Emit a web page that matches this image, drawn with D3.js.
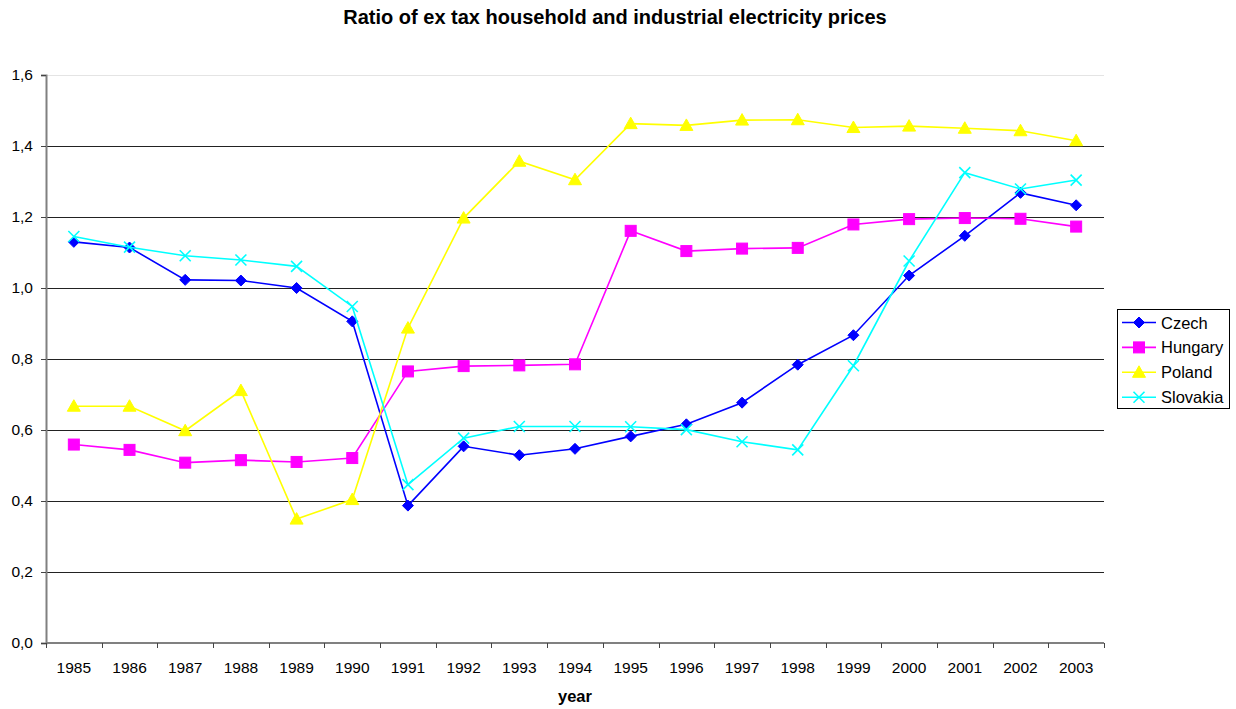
<!DOCTYPE html>
<html>
<head>
<meta charset="utf-8">
<script src="https://cdn.jsdelivr.net/npm/d3@7"></script>
<style>
  body { margin: 0; background: #fff; }
  svg { display: block; font-family: Arial, "Liberation Sans", sans-serif; }
</style>
</head>
<body>
<svg id="chart" width="1236" height="709"></svg>
<script>
// Years on the category axis
const years = ["1985","1986","1987","1988","1989","1990","1991","1992","1993","1994",
               "1995","1996","1997","1998","1999","2000","2001","2002","2003"];

// Ratio of household to industrial electricity prices (ex tax)
const czech    = [1.130,1.114,1.023,1.021,1.000,0.906,0.387,0.554,0.529,0.547,
                  0.582,0.616,0.677,0.784,0.867,1.035,1.147,1.268,1.233];
const hungary  = [0.559,0.544,0.508,0.515,0.510,0.521,0.765,0.780,0.782,0.785,
                  1.161,1.104,1.111,1.113,1.179,1.194,1.197,1.195,1.173];
const poland   = [0.667,0.667,0.598,0.711,0.349,0.404,0.887,1.197,1.357,1.305,
                  1.463,1.458,1.473,1.474,1.452,1.456,1.450,1.443,1.415];
const slovakia = [1.145,1.115,1.091,1.079,1.061,0.948,0.446,0.577,0.610,0.610,
                  0.609,0.601,0.567,0.544,0.781,1.076,1.325,1.279,1.304];

const yTicks = [0, 0.2, 0.4, 0.6, 0.8, 1.0, 1.2, 1.4, 1.6];

const series = [
  { name: "Czech",    values: czech,    color: "#0000ff", marker: "diamond" },
  { name: "Hungary",  values: hungary,  color: "#ff00ff", marker: "square" },
  { name: "Poland",   values: poland,   color: "#ffff00", marker: "triangle" },
  { name: "Slovakia", values: slovakia, color: "#00ffff", marker: "cross" }
];

const svg = d3.select("#chart");
const plot = { left: 46, right: 1104, top: 75, bottom: 643 };

const x = d3.scaleBand().domain(years).range([plot.left, plot.right]);
const y = d3.scaleLinear().domain([0, 1.6]).range([plot.bottom, plot.top]);
const fmt = d => d.toFixed(1).replace(".", ",");

// Title
svg.append("text")
  .attr("x", 615).attr("y", 24)
  .attr("text-anchor", "middle")
  .attr("font-size", 20).attr("font-weight", "bold")
  .text("Ratio of ex tax household and industrial electricity prices");

// Horizontal gridlines
svg.append("g")
  .selectAll("line")
  .data(yTicks.filter(t => t > 0))
  .join("line")
  .attr("x1", plot.left).attr("x2", plot.right)
  .attr("y1", d => Math.round(y(d)) + 0.5).attr("y2", d => Math.round(y(d)) + 0.5)
  .attr("stroke", d => d === 1.6 ? "#e4e4e4" : "#222")
  .attr("stroke-width", 1);

// Y axis
const yAxis = svg.append("g")
  .attr("transform", `translate(${plot.left},0)`)
  .call(d3.axisLeft(y).tickValues(yTicks).tickFormat(fmt).tickSize(5).tickPadding(8));
yAxis.select(".domain").attr("stroke", "#808080").attr("stroke-width", 2);
yAxis.selectAll(".tick line").attr("stroke", "#444");
yAxis.selectAll(".tick text").attr("font-size", 15.5).attr("fill", "#000")
  .attr("font-family", "Arial, 'Liberation Sans', sans-serif");

// X axis: ticks fall between categories
const xAxis = svg.append("g")
  .attr("transform", `translate(0,${plot.bottom})`);
xAxis.append("line")
  .attr("x1", plot.left).attr("x2", plot.right)
  .attr("stroke", "#808080").attr("stroke-width", 2);
xAxis.selectAll("line.tick")
  .data(years.map(yr => x(yr)).concat([plot.right]))
  .join("line").attr("class", "tick")
  .attr("x1", d => Math.round(d) + 0.5).attr("x2", d => Math.round(d) + 0.5)
  .attr("y1", 0).attr("y2", 5)
  .attr("stroke", "#444");
xAxis.selectAll("text")
  .data(years)
  .join("text")
  .attr("x", d => x(d) + x.bandwidth() / 2)
  .attr("y", 30)
  .attr("text-anchor", "middle")
  .attr("font-size", 15.5)
  .text(d => d);

// Axis title
svg.append("text")
  .attr("x", (plot.left + plot.right) / 2).attr("y", 702)
  .attr("text-anchor", "middle")
  .attr("font-size", 16.5).attr("font-weight", "bold")
  .text("year");

// Marker drawing helper
function drawMarker(g, type, color) {
  if (type === "diamond") {
    g.append("path").attr("d", "M0,-5.5L5.5,0L0,5.5L-5.5,0Z").attr("fill", color).attr("stroke", color);
  } else if (type === "square") {
    g.append("rect").attr("x", -5.5).attr("y", -5.5).attr("width", 11).attr("height", 11)
      .attr("fill", color).attr("stroke", color);
  } else if (type === "triangle") {
    g.append("path").attr("d", "M0,-6.5L6.5,5L-6.5,5Z").attr("fill", color).attr("stroke", color);
  } else if (type === "cross") {
    g.append("path").attr("d", "M-5.5,-5.5L5.5,5.5M-5.5,5.5L5.5,-5.5").attr("fill", "none")
      .attr("stroke", color).attr("stroke-width", 1.6);
  }
}

const line = d3.line()
  .x((d, i) => x(years[i]) + x.bandwidth() / 2)
  .y(d => y(d));

// Series lines and markers
series.forEach(s => {
  const g = svg.append("g");
  g.append("path")
    .attr("d", line(s.values))
    .attr("fill", "none")
    .attr("stroke", s.color)
    .attr("stroke-width", 1.6);
  s.values.forEach((v, i) => {
    const m = g.append("g")
      .attr("transform", `translate(${x(years[i]) + x.bandwidth() / 2},${y(v)})`);
    drawMarker(m, s.marker, s.color);
  });
});

// Legend
const legend = svg.append("g").attr("transform", "translate(1117,309)");
legend.append("rect")
  .attr("x", 0.5).attr("y", 0.5).attr("width", 112).attr("height", 99)
  .attr("fill", "#fff").attr("stroke", "#000").attr("stroke-width", 1);
series.forEach((s, i) => {
  const cy = 13.5 + i * 24.9;
  const item = legend.append("g").attr("transform", `translate(0,${cy})`);
  item.append("line").attr("x1", 5).attr("x2", 39).attr("y1", 0).attr("y2", 0)
    .attr("stroke", s.color).attr("stroke-width", 1.6);
  const m = item.append("g").attr("transform", "translate(22,0)");
  drawMarker(m, s.marker, s.color);
  item.append("text").attr("x", 44).attr("y", 6).attr("font-size", 16.5).text(s.name);
});
</script>
</body>
</html>
